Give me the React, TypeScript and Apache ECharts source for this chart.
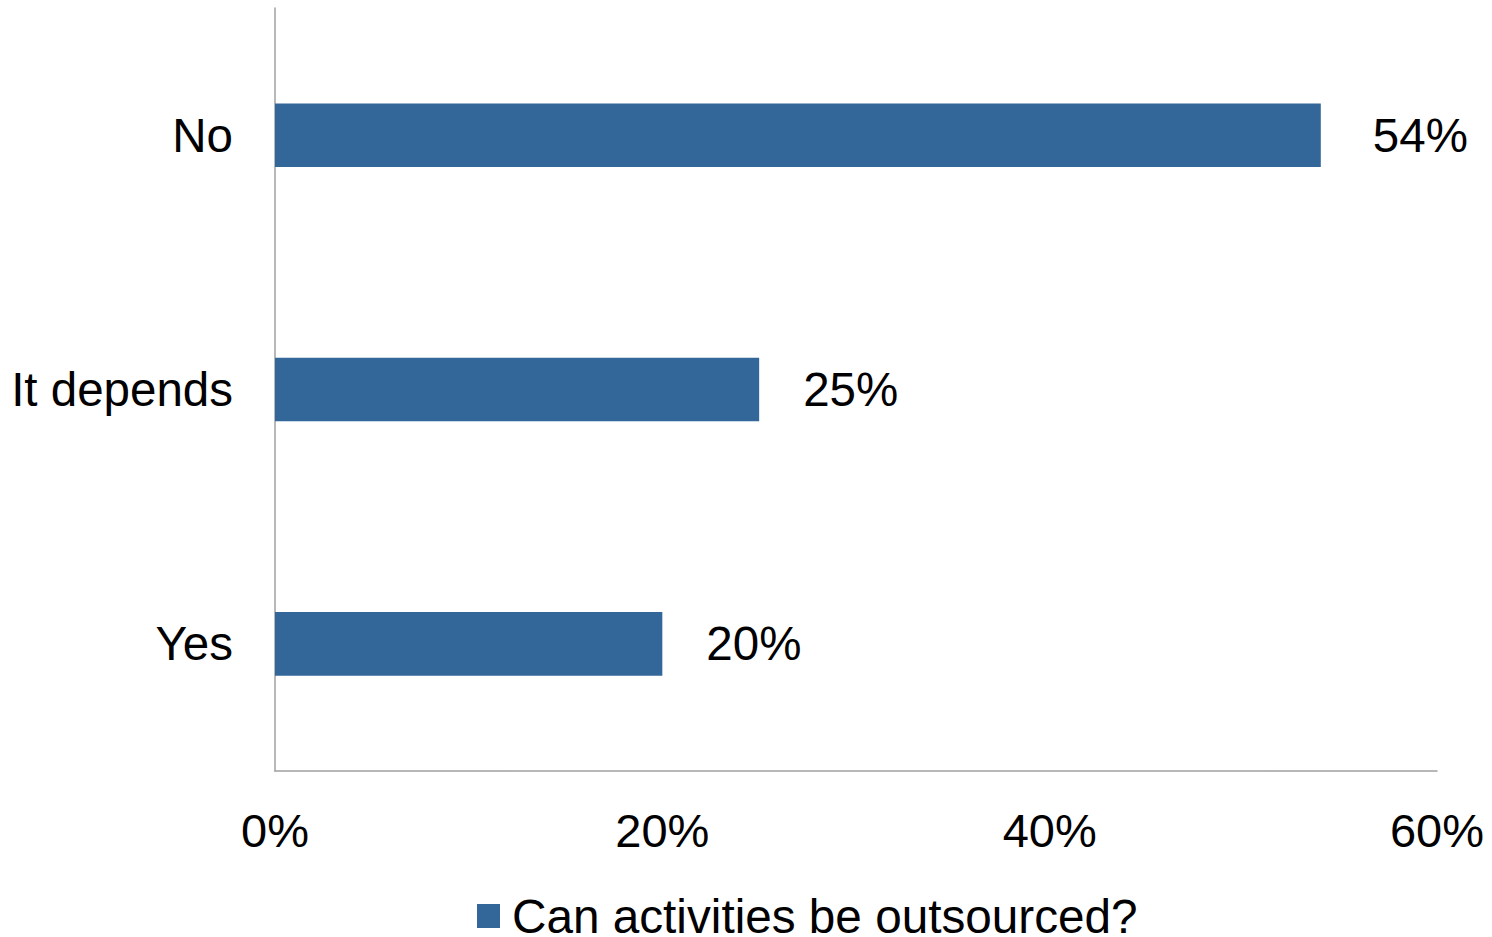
import React, { useEffect, useRef } from "react";
import * as echarts from "echarts";

const categories = ["Yes", "It depends", "No"];
const values = [20, 25, 54];
const seriesName = "Can activities be outsourced?";
const xTicks = [0, 20, 40, 60];

export default function App() {
  const ref = useRef<HTMLDivElement>(null);
  useEffect(() => {
    if (!ref.current) return;
    const chart = echarts.init(ref.current, null, { renderer: "svg" });
    const font = "'Liberation Sans', Arial, sans-serif";
    chart.setOption({
      animation: false,
      grid: { left: 275, right: 55, top: 8, bottom: 166, containLabel: false },
      legend: {
        left: 472,
        top: 887,
        itemWidth: 23,
        itemHeight: 24,
        itemGap: 10,
        icon: "rect",
        textStyle: {
          fontSize: 47.7,
          lineHeight: 40,
          fontFamily: font,
          color: "#000",
          padding: [0, 0, 8, 7],
        },
        data: [seriesName],
      },
      xAxis: {
        type: "value",
        min: xTicks[0],
        max: xTicks[xTicks.length - 1],
        interval: 20,
        axisLine: { show: true, lineStyle: { color: "#a0a0a0", width: 1.5 } },
        axisTick: { show: false },
        splitLine: { show: false },
        axisLabel: {
          fontSize: 47,
          fontFamily: font,
          color: "#000",
          margin: 36,
          formatter: (v: number) => v + "%",
        },
      },
      yAxis: {
        type: "category",
        data: categories,
        axisLine: { show: true, lineStyle: { color: "#a0a0a0", width: 1.5 } },
        axisTick: { show: false },
        axisLabel: { fontSize: 47.5, fontFamily: font, color: "#000", margin: 42 },
      },
      series: [
        {
          name: seriesName,
          type: "bar",
          data: values.map((v) => (v > 50 ? { value: v, label: { distance: 52 } } : v)),
          barCategoryGap: "75%",
          itemStyle: { color: "#336699" },
          label: {
            show: true,
            position: "right",
            distance: 44,
            fontSize: 47.5,
            fontFamily: font,
            color: "#000",
            formatter: (p: any) => p.value + "%",
          },
        },
      ],
    });
    return () => chart.dispose();
  }, []);
  return (
    <div
      ref={ref}
      style={{ position: "fixed", left: 0, top: 0, width: 1492, height: 937, background: "#fff" }}
    />
  );
}
